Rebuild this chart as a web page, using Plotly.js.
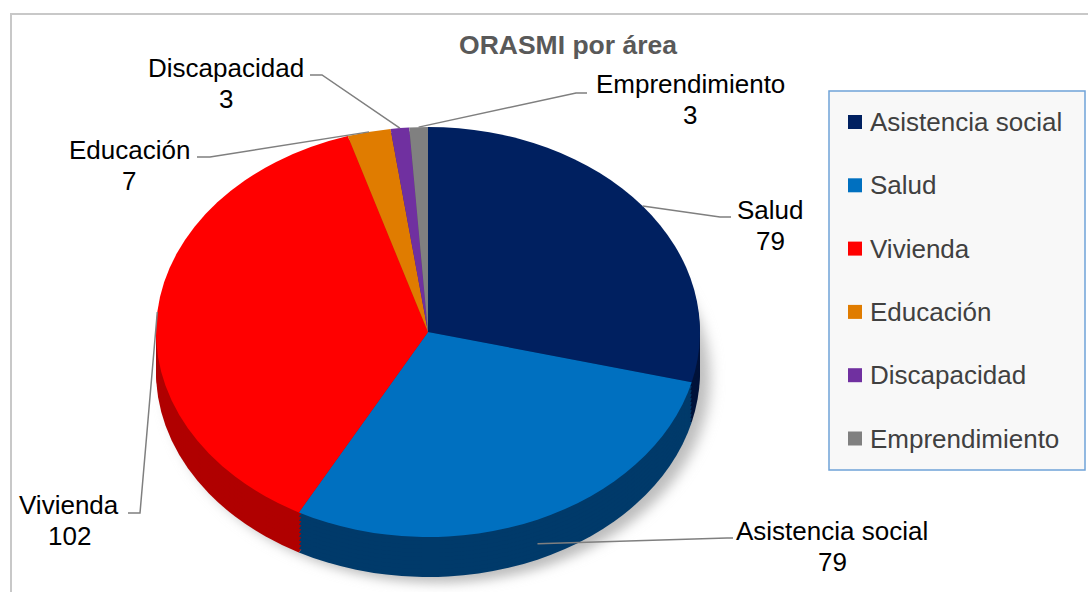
<!DOCTYPE html>
<html><head><meta charset="utf-8">
<script src="https://cdn.plot.ly/plotly-3.0.1.min.js"></script>
<style>
html,body{margin:0;padding:0;background:#fff;}
#chart{position:absolute;left:0;top:0;width:1088px;height:592px;}
#frame{position:absolute;left:10px;top:13px;width:1100px;height:620px;border-left:2px solid #C8C8C8;border-top:2px solid #C8C8C8;pointer-events:none;}
</style>
</head><body><div id="chart"></div><div id="frame"></div>
<script>
// ---- data ----
const categories = ['Asistencia social','Salud','Vivienda','Educación','Discapacidad','Emprendimiento'];
const values = [79, 79, 102, 7, 3, 3];
// data-label names as printed next to each slice in the reference
const sliceLabels = ['Salud','Asistencia social','Vivienda','Educación','Discapacidad','Emprendimiento'];
const colors = ['#002060','#0070C0','#FF0000','#E07C00','#7030A0','#808080'];
const sideColors = ['#00133A','#003A6A','#B00000','#9C5600','#4A1F6E','#565656'];
const shadowColors = ['#BDBDBD','#BDBDBD','#BDBDBD','#BDBDBD','#BDBDBD','#BDBDBD'];
const chartTitle = 'ORASMI por área';

// ---- geometry / layout config ----
const W = 1088, H = 592;
const cx = 428, a = 272, cyTop = 332, b = 205, depth = 40;
const s = b / a, cyPre = H / 2;
const FONT = 'Liberation Sans, Arial, sans-serif';
const labelLayout = [
  {tx:770, ty:210, path:[[720,217],[731,217]]},
  {tx:832, ty:531, path:[[727,538],[733,538]]},
  {tx:69,  ty:505, path:[[140,513],[128,513]]},
  {tx:129, ty:150, path:[[210,157],[197,157]]},
  {tx:226, ty:68,  path:[[322,75],[310,75]]},
  {tx:690, ty:84,  path:[[576,93],[587,93]]}
];
const px = x => x / W, py = y => 1 - y / H;

const domain = {x:[px(cx - a), px(cx + a)], y:[(cyPre - a) / H, (cyPre + a) / H]};
function pieTrace(cols){
  return {type:'pie', labels:categories, values:values, sort:false, direction:'clockwise',
    rotation:0, textinfo:'none', hoverinfo:'skip', showlegend:false, domain:domain,
    marker:{colors:cols, line:{width:0}}};
}
// layer stack: blurred shadow, side (extrusion) layers, top face
const layers = [{dx:10, dy:depth + 6, shadow:true}];
const nSide = 10;
for (let k = nSide; k >= 1; k--) layers.push({dx:0, dy:depth * k / nSide});
layers.push({dx:0, dy:0, top:true});
const traces = layers.map(L => pieTrace(L.shadow ? shadowColors : (L.top ? colors : sideColors)));

const shapes = [], annotations = [];
// leader lines + data labels
const total = values.reduce((p,c)=>p+c,0);
let cum = 0;
values.forEach((v,i)=>{
  const mid = (cum + v/2) / total * 2 * Math.PI; cum += v;
  let sx = cx + a * Math.sin(mid), sy = cyTop - b * Math.cos(mid);
  if (Math.cos(mid) < -0.5) sy += depth * 0.6;
  const L = labelLayout[i];
  let d = 'M' + px(sx) + ',' + py(sy);
  L.path.forEach(p => { d += ' L' + px(p[0]) + ',' + py(p[1]); });
  shapes.push({type:'path', xref:'paper', yref:'paper', path:d, line:{color:'#7F7F7F', width:1.5}});
  annotations.push({xref:'paper', yref:'paper', x:px(L.tx), y:py(L.ty), text:sliceLabels[i], showarrow:false,
    xanchor:'center', yanchor:'middle', font:{family:FONT, size:26, color:'#000000'}});
  annotations.push({xref:'paper', yref:'paper', x:px(L.tx), y:py(L.ty + 31), text:String(v), showarrow:false,
    xanchor:'center', yanchor:'middle', font:{family:FONT, size:26, color:'#000000'}});
});
// legend box
const lg = {x0:829, y0:91, x1:1085, y1:470, sq0:848, sq1:862, tx:868, first:122, step:63.3};
shapes.push({type:'rect', xref:'paper', yref:'paper', x0:px(lg.x0), x1:px(lg.x1), y0:py(lg.y0), y1:py(lg.y1),
  fillcolor:'#F8F8F8', line:{color:'#6FA3D8', width:1.5}, layer:'below'});
categories.forEach((c,i)=>{
  const yc = lg.first + lg.step * i;
  shapes.push({type:'rect', xref:'paper', yref:'paper', x0:px(lg.sq0), x1:px(lg.sq1), y0:py(yc-7), y1:py(yc+7),
    fillcolor:colors[i], line:{width:0}});
  annotations.push({xref:'paper', yref:'paper', x:px(lg.tx), y:py(yc), text:c, showarrow:false,
    xanchor:'left', yanchor:'middle', font:{family:FONT, size:26, color:'#404040'}});
});

const layout = {
  width:W, height:H, margin:{l:0, r:0, t:0, b:0},
  paper_bgcolor:'rgba(0,0,0,0)', plot_bgcolor:'rgba(0,0,0,0)',
  title:{text:'<b>' + chartTitle + '</b>', x:px(568), xanchor:'center', y:py(45), yanchor:'middle',
    font:{family:FONT, size:26.5, color:'#595959'}},
  showlegend:false, shapes:shapes, annotations:annotations
};

Plotly.newPlot('chart', traces, layout, {staticPlot:true, displayModeBar:false}).then(gd=>{
  const svg = gd.querySelector('svg.main-svg');
  const NS = 'http://www.w3.org/2000/svg';
  let defs = svg.querySelector('defs');
  if (!defs) { defs = document.createElementNS(NS, 'defs'); svg.insertBefore(defs, svg.firstChild); }
  const f = document.createElementNS(NS, 'filter');
  f.setAttribute('id', 'pieShadow');
  f.setAttribute('x', '-20%'); f.setAttribute('y', '-20%'); f.setAttribute('width', '140%'); f.setAttribute('height', '140%');
  const blur = document.createElementNS(NS, 'feGaussianBlur');
  blur.setAttribute('stdDeviation', '7');
  f.appendChild(blur); defs.appendChild(f);
  const groups = gd.querySelectorAll('.pielayer g.trace');
  groups.forEach((g,i)=>{
    const L = layers[i] || {dx:0, dy:0};
    g.setAttribute('transform', 'translate(' + L.dx + ',' + (cyTop + L.dy - s * cyPre) + ') scale(1,' + s + ')');
    if (L.shadow) { g.setAttribute('filter', 'url(#pieShadow)'); g.setAttribute('opacity', '0.8'); }
  });
});
</script>
</body></html>
